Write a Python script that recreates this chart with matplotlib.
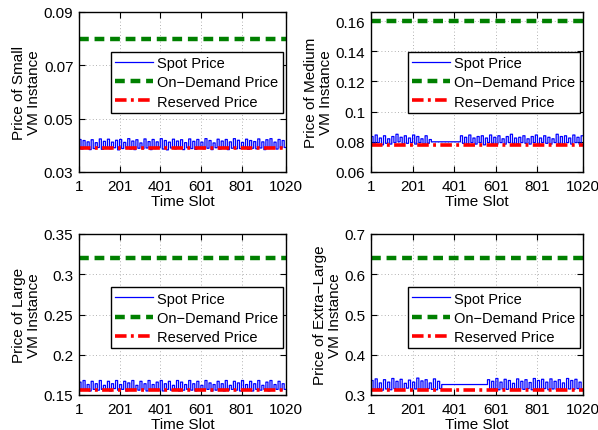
import matplotlib
matplotlib.use("Agg")
import matplotlib.pyplot as plt
import numpy as np

plt.rcParams['font.family'] = ['Liberation Sans', 'DejaVu Sans']

# time slots and ticks
n_slots = 1020
xticks = [1, 201, 401, 601, 801, 1020]

# spot price levels, each held for 10 time slots
small_spot = [0.0422, 0.0386, 0.0418, 0.0390, 0.0413, 0.0384, 0.0421, 0.0388, 0.0410, 0.0392,
              0.0424, 0.0385, 0.0415, 0.0389, 0.0423, 0.0387, 0.0412, 0.0391, 0.0419, 0.0383,
              0.0422, 0.0388, 0.0411, 0.0390, 0.0425, 0.0386, 0.0416, 0.0384, 0.0421, 0.0389,
              0.0409, 0.0387, 0.0424, 0.0390, 0.0414, 0.0384, 0.0422, 0.0388, 0.0413, 0.0392,
              0.0425, 0.0386, 0.0418, 0.0383, 0.0412, 0.0390, 0.0423, 0.0387, 0.0416, 0.0389,
              0.0421, 0.0384, 0.0410, 0.0391, 0.0424, 0.0388, 0.0415, 0.0385, 0.0422, 0.0390,
              0.0412, 0.0387, 0.0425, 0.0389, 0.0418, 0.0384, 0.0409, 0.0391, 0.0423, 0.0386,
              0.0416, 0.0390, 0.0422, 0.0384, 0.0413, 0.0389, 0.0425, 0.0387, 0.0419, 0.0388,
              0.0411, 0.0391, 0.0423, 0.0385, 0.0418, 0.0389, 0.0414, 0.0387, 0.0424, 0.0390,
              0.0413, 0.0384, 0.0421, 0.0388, 0.0425, 0.0389, 0.0412, 0.0386, 0.0422, 0.0390,
              0.0418, 0.0392]
medium_spot = [0.0835, 0.0785, 0.0845, 0.0795, 0.0825, 0.0780, 0.0840, 0.0790, 0.0820, 0.0785,
               0.0835, 0.0795, 0.0850, 0.0800, 0.0830, 0.0785, 0.0840, 0.0790, 0.0825, 0.0795,
               0.0845, 0.0785, 0.0835, 0.0795, 0.0820, 0.0785, 0.0840, 0.0790, 0.0815, 0.0800,
               0.0800, 0.0800, 0.0800, 0.0800, 0.0800, 0.0800, 0.0800, 0.0800, 0.0800, 0.0800,
               0.0800, 0.0800, 0.0800, 0.0840, 0.0790, 0.0830, 0.0785, 0.0845, 0.0795, 0.0825,
               0.0785, 0.0835, 0.0795, 0.0840, 0.0780, 0.0825, 0.0795, 0.0845, 0.0790, 0.0830,
               0.0785, 0.0840, 0.0795, 0.0820, 0.0785, 0.0835, 0.0795, 0.0850, 0.0790, 0.0825,
               0.0785, 0.0830, 0.0795, 0.0840, 0.0790, 0.0820, 0.0785, 0.0835, 0.0795, 0.0845,
               0.0785, 0.0825, 0.0795, 0.0840, 0.0790, 0.0830, 0.0785, 0.0820, 0.0795, 0.0850,
               0.0790, 0.0835, 0.0785, 0.0840, 0.0795, 0.0825, 0.0785, 0.0845, 0.0795, 0.0830,
               0.0785, 0.0840]
large_spot = [0.166, 0.156, 0.168, 0.157, 0.163, 0.155, 0.167, 0.157, 0.164, 0.156,
              0.168, 0.157, 0.162, 0.156, 0.167, 0.155, 0.164, 0.158, 0.168, 0.156,
              0.163, 0.157, 0.167, 0.155, 0.165, 0.156, 0.168, 0.157, 0.162, 0.156,
              0.167, 0.157, 0.164, 0.155, 0.168, 0.156, 0.163, 0.157, 0.166, 0.156,
              0.168, 0.155, 0.164, 0.157, 0.167, 0.156, 0.162, 0.157, 0.168, 0.155,
              0.166, 0.156, 0.163, 0.157, 0.168, 0.156, 0.164, 0.155, 0.167, 0.157,
              0.162, 0.156, 0.168, 0.157, 0.165, 0.155, 0.163, 0.156, 0.167, 0.157,
              0.164, 0.155, 0.168, 0.156, 0.162, 0.157, 0.167, 0.156, 0.165, 0.155,
              0.168, 0.157, 0.163, 0.156, 0.167, 0.155, 0.164, 0.157, 0.168, 0.156,
              0.162, 0.157, 0.166, 0.155, 0.168, 0.156, 0.163, 0.157, 0.167, 0.156,
              0.164, 0.157]
xlarge_spot = [0.336, 0.314, 0.340, 0.316, 0.330, 0.312, 0.338, 0.315, 0.332, 0.313,
               0.341, 0.316, 0.334, 0.313, 0.339, 0.314, 0.329, 0.317, 0.337, 0.313,
               0.332, 0.315, 0.342, 0.314, 0.335, 0.313, 0.338, 0.316, 0.330, 0.314,
               0.340, 0.313, 0.334, 0.316, 0.326, 0.326, 0.326, 0.326, 0.326, 0.326,
               0.326, 0.326, 0.326, 0.326, 0.326, 0.326, 0.326, 0.326, 0.326, 0.326,
               0.326, 0.326, 0.326, 0.326, 0.326, 0.326, 0.338, 0.314, 0.334, 0.316,
               0.341, 0.313, 0.332, 0.315, 0.339, 0.314, 0.336, 0.316, 0.329, 0.313,
               0.340, 0.315, 0.334, 0.314, 0.338, 0.316, 0.331, 0.313, 0.341, 0.315,
               0.336, 0.314, 0.339, 0.316, 0.332, 0.313, 0.340, 0.315, 0.334, 0.314,
               0.338, 0.316, 0.330, 0.313, 0.341, 0.315, 0.336, 0.314, 0.339, 0.316,
               0.332, 0.314]

on_demand = [0.08, 0.16, 0.32, 0.64]
reserved = [0.039, 0.078, 0.156, 0.312]
ylabels = ["Price of Small\nVM Instance", "Price of Medium\nVM Instance",
           "Price of Large\nVM Instance", "Price of Extra\u2212Large\nVM Instance"]
ylims = [(0.03, 0.09), (0.06, 0.166), (0.15, 0.35), (0.3, 0.7)]
yticks = [[0.03, 0.05, 0.07, 0.09], [0.06, 0.08, 0.1, 0.12, 0.14, 0.16],
          [0.15, 0.2, 0.25, 0.3, 0.35], [0.3, 0.4, 0.5, 0.6, 0.7]]
spots = [small_spot, medium_spot, large_spot, xlarge_spot]

fig = plt.figure(figsize=(5.98, 4.31), dpi=100)
W, H = 598, 431
# axes boxes in pixels: left, top, right, bottom
boxes = [(79, 13, 286, 173), (371, 13, 583, 173),
         (79, 235, 286, 396), (371, 235, 583, 396)]
leg_top = [0.75, 0.75, 0.67, 0.67]

slots = np.arange(1, n_slots + 1)
for i in range(4):
    l, t, r, b = boxes[i]
    ax = fig.add_axes([l / W, 1 - b / H, (r - l) / W, (b - t) / H])
    spot = np.repeat(spots[i], 10)[:n_slots]
    ax.plot(slots, spot, color='blue', lw=0.9, drawstyle='steps-post', label='Spot Price')
    ax.plot(slots, np.full(n_slots, on_demand[i]), color=(0, 0.5, 0), lw=3.2,
            ls=(0, (2.2, 1.3)), label='On\u2212Demand Price')
    ax.plot(slots, np.full(n_slots, reserved[i]), color='red', lw=2.6,
            ls=(0, (3.2, 1.2, 0.8, 1.2)), label='Reserved Price')
    ax.set_xlim(1, 1020)
    ax.set_ylim(*ylims[i])
    ax.set_xticks(xticks)
    ax.set_yticks(yticks[i])
    ax.set_yticklabels([('%g' % v) for v in yticks[i]])
    ax.tick_params(direction='in', top=True, right=True, labelsize=11, length=4, pad=5)
    ax.tick_params(axis='y', pad=4)
    ax.grid(True, ls=(0, (1, 3)), color='0.6', lw=0.6)
    for s in ax.spines.values():
        s.set_linewidth(1.0)
    ax.set_xlabel('Time Slot', fontsize=11, labelpad=1)
    ax.set_ylabel(ylabels[i], fontsize=11, labelpad=2, linespacing=1.05)
    leg = ax.legend(loc='upper right', bbox_to_anchor=(0.985, leg_top[i]), fontsize=10.5,
                    borderaxespad=0, handlelength=2.6, handletextpad=0.3,
                    labelspacing=0.35, borderpad=0.3, fancybox=False, framealpha=1)
    leg.get_frame().set_edgecolor('black')
    leg.get_frame().set_linewidth(1.0)

fig.savefig('out.png', dpi=100)
